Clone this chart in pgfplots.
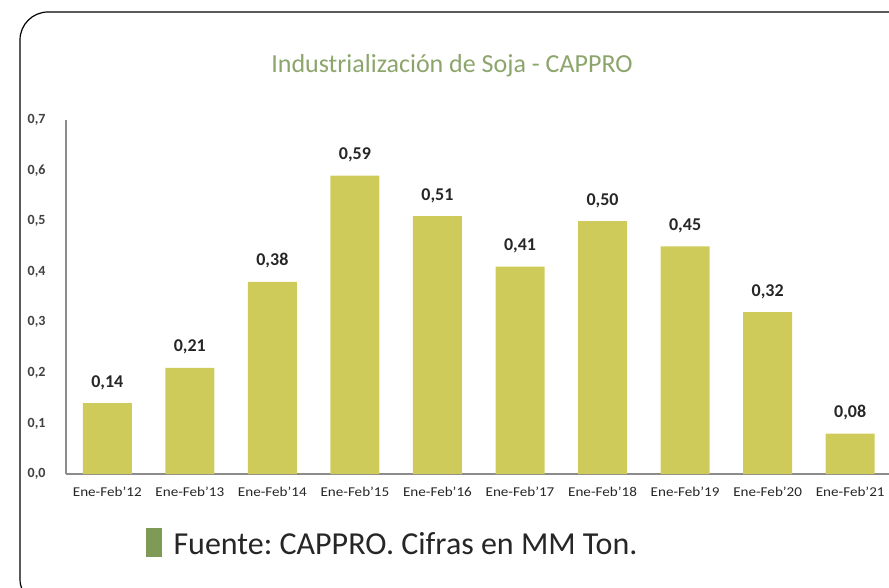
\documentclass[border=0pt]{standalone}
\usepackage{fontspec}
\setmainfont{Carlito}
\usepackage{pgfplots}
\pgfplotsset{compat=1.18}
\definecolor{barolive}{HTML}{CFCB5B}
\definecolor{titlegreen}{HTML}{8BA56B}
\definecolor{srcgreen}{HTML}{7E9A56}
\definecolor{axisgray}{HTML}{8C8C8C}

\begin{document}
\frenchspacing
\begin{tikzpicture}[x=1pt,y=1pt]
\useasboundingbox (0,0) rectangle (889,587);
\clip (0,0) rectangle (889,587);
% frame, cut off at right and bottom like the screenshot
\draw[black, line width=1.2pt, rounded corners=28pt] (20,-20) rectangle (930,575);
\node[titlegreen, font=\fontsize{26}{30}\selectfont] at (452,521) {Industrialización de Soja - CAPPRO};
\begin{axis}[
    at={(66pt,113pt)}, anchor=south west,
    scale only axis,
    width=823pt, height=354pt,
    xmin=-0.5, xmax=9.47,
    ymin=0, ymax=0.7,
    axis x line*=bottom, axis y line*=left,
    axis line style={axisgray, line width=1.6pt},
    major tick length=0pt,
    ytick={0,0.1,0.2,0.3,0.4,0.5,0.6,0.7},
    xtick={0,...,9},
    xticklabels={Ene-Feb'12,Ene-Feb'13,Ene-Feb'14,Ene-Feb'15,Ene-Feb'16,Ene-Feb'17,Ene-Feb'18,Ene-Feb'19,Ene-Feb'20,Ene-Feb'21},
    yticklabel style={font=\bfseries\fontsize{14}{16}\selectfont, color=black!75, xshift=-17pt,
        /pgf/number format/.cd, fixed, fixed zerofill, precision=1, use comma, assume math mode=true},
    xticklabel style={font=\fontsize{13.5}{15}\selectfont, xscale=1.12, color=black!85, yshift=-9pt},
    ybar, bar width=49pt,
    nodes near coords={\pgfmathprintnumber[fixed,fixed zerofill,precision=2,use comma,assume math mode=true]{\pgfplotspointmeta}},
    nodes near coords style={font=\bfseries\fontsize{18}{20}\selectfont, color=black!85, yshift=10pt},
]
\addplot[fill=barolive, draw=none] coordinates {
    (0,0.14) (1,0.21) (2,0.38) (3,0.59) (4,0.51)
    (5,0.41) (6,0.50) (7,0.45) (8,0.32) (9,0.08)};
\end{axis}
\fill[srcgreen] (146,30) rectangle (162,59);
\node[anchor=west, font=\fontsize{32}{36}\selectfont, color=black!85] at (170,43) {Fuente: CAPPRO. Cifras en MM Ton.};
\end{tikzpicture}
\end{document}
